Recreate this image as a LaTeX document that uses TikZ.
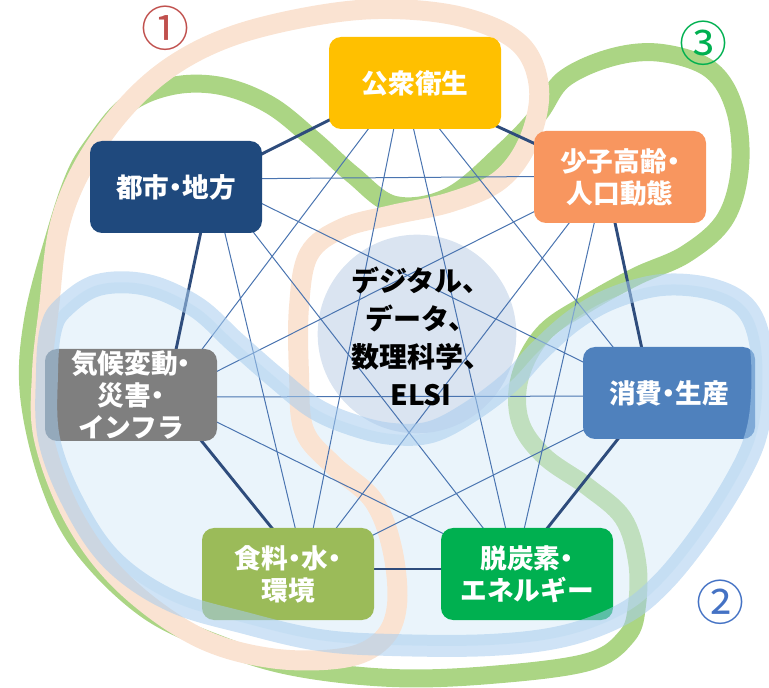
\documentclass[tikz,border=0pt]{standalone}
\usepackage{fontspec}
\setmainfont{Noto Sans CJK JP}
\newcommand\nd{\kern-.25em・\kern-.25em}
\usetikzlibrary{calc}
\pgfdeclarelayer{bg}
\pgfdeclarelayer{edges}
\pgfdeclarelayer{top}
\pgfsetlayers{bg,edges,main,top}
\definecolor{cPH}{HTML}{FFC000}
\definecolor{cSH}{HTML}{F8965F}
\definecolor{cCS}{HTML}{4F81BD}
\definecolor{cDC}{HTML}{00B050}
\definecolor{cSK}{HTML}{9BBB59}
\definecolor{cKI}{HTML}{7F7F7F}
\definecolor{cTS}{HTML}{1F497D}
\definecolor{cHub}{HTML}{DAE4F1}
\definecolor{cRim}{HTML}{2E4C7C}
\definecolor{cLink}{HTML}{4A74B0}
\definecolor{cPeach}{HTML}{FAE3D2}
\definecolor{cGreen}{HTML}{ABD584}
\definecolor{cBlueBand}{HTML}{A7CCEE}
\definecolor{cBlueFill}{HTML}{D6EAF8}
\definecolor{cOne}{HTML}{C0504D}
\definecolor{cTwo}{HTML}{4472C4}
\definecolor{cThree}{HTML}{00B050}
\begin{document}
\begin{tikzpicture}[x=0.75pt,y=-0.75pt,
  box/.style={rectangle, rounded corners=9pt, minimum width=129pt, minimum height=69pt,
    text=white, font=\bfseries\fontsize{20}{24}\selectfont, align=center, inner sep=0pt},
  rim/.style={line width=2.2pt, draw=cRim},
  link/.style={line width=0.75pt, draw=cLink},
  band/.style={line width=#1, line cap=round, line join=round},
  tag/.style={font=\fontsize{36}{36}\selectfont, inner sep=0pt}]
\useasboundingbox (0,0) rectangle (769,688);

% ---------- blobs (background) ----------
\begin{pgfonlayer}{bg}
  % (3) green loop
  \draw[band=13.5pt, cGreen] plot[smooth cycle, tension=0.6] coordinates {
    (74,178) (93,145) (127,105) (172,86) (221,86) (270,105) (314,140) (353,175)
    (395,205) (450,196) (505,150) (539,114) (564,79) (613,57) (662,53) (711,70)
    (735,110) (740,167) (725,219) (686,254) (637,276) (588,303) (544,333) (520,377)
    (520,421) (544,456) (588,487) (623,518) (637,561) (637,605) (627,636) (588,662)
    (490,675) (392,678) (294,667) (221,645) (147,610) (83,548) (49,482) (29,395)
    (33,320) (55,235)};
  % (2) blue area fill
  \fill[cBlueFill, opacity=0.5] plot[smooth cycle, tension=0.6] coordinates {
    (64,307) (98,285) (147,285) (196,307) (235,342) (275,377) (314,408) (353,425)
    (392,434) (431,432) (470,412) (510,382) (539,351) (574,320) (613,298) (662,285)
    (711,289) (745,307) (760,342) (762,395) (755,439) (735,482) (701,535) (662,583)
    (623,614) (564,636) (490,645) (392,645) (319,640) (245,623) (172,601) (113,561)
    (74,504) (49,439) (47,373) (51,329)};
  % (1) peach loop
  \draw[band=15pt, cPeach] plot[smooth cycle, tension=0.6] coordinates {
    (49,307) (59,228) (83,167) (123,110) (172,66) (235,35) (319,15) (392,9)
    (466,18) (520,44) (539,88) (529,140) (500,180) (451,202) (392,215) (343,228)
    (309,254) (299,307) (299,373) (304,430) (333,465) (373,500) (392,548) (397,605)
    (382,640) (343,658) (270,658) (196,636) (123,583) (74,518) (44,439) (42,373)};
  % hub disc
  \node[circle, fill=cHub, minimum size=149pt, inner sep=0pt] (hub) at (417,334) {};
\end{pgfonlayer}

% ---------- topic boxes ----------
\node[box, fill=cPH] (ph) at (415,83) {公衆衛生};
\node[box, fill=cSH] (sh) at (620,177) {少子高齢\nd\\人口動態};
\node[box, fill=cCS] (cs) at (669,393) {消費\nd 生産};
\node[box, fill=cDC] (dc) at (527,574) {脱炭素\nd\\エネルギー};
\node[box, fill=cSK] (sk) at (288,574) {食料\nd 水\nd\\環境};
\node[box, fill=cKI] (ki) at (131,395) {気候変動\nd\\災害\nd\\インフラ};
\node[box, fill=cTS] (ts) at (176,187) {都市\nd 地方};

\node[font=\bfseries\fontsize{21}{28.5}\selectfont, align=center, text=black, inner sep=0pt]
  (hubtext) at (421,336) {デジタル、\\データ、\\数理科学、\\ELSI};

% connection points of the heptagon (inside each box)
\coordinate (phP) at ($(ph)+(-12,0)$);
\coordinate (shP) at ($(sh)+(-15,-1)$);
\coordinate (csP) at ($(cs)+(-17,3)$);
\coordinate (dcP) at ($(dc)+(-12,-5)$);
\coordinate (skP) at ($(sk)+(17,-5)$);
\coordinate (kiP) at ($(ki)+(35,2)$);
\coordinate (tsP) at ($(ts)+(36,-8)$);

% ---------- connectors ----------
\begin{pgfonlayer}{edges}
  \foreach \a/\b in {ph/sh, sh/cs, cs/dc, dc/sk, sk/ki, ki/ts, ts/ph}
    \draw[rim] (\a P) -- (\b P);
  \foreach \a/\b in {ph/cs, ph/dc, ph/sk, ph/ki, sh/dc, sh/sk, sh/ki, sh/ts,
                     cs/sk, cs/ki, cs/ts, dc/ki, dc/ts, sk/ts}
    \draw[link] (\a P) -- (\b P);
\end{pgfonlayer}

% ---------- blue band on top ----------
\begin{pgfonlayer}{top}
  \draw[band=16.5pt, cBlueBand, opacity=0.55] plot[smooth cycle, tension=0.6] coordinates {
    (64,307) (98,285) (147,285) (196,307) (235,342) (275,377) (314,408) (353,425)
    (392,434) (431,432) (470,412) (510,382) (539,351) (574,320) (613,298) (662,285)
    (711,289) (745,307) (760,342) (762,395) (755,439) (735,482) (701,535) (662,583)
    (623,614) (564,636) (490,645) (392,645) (319,640) (245,623) (172,601) (113,561)
    (74,504) (49,439) (47,373) (51,329)};
  \node[tag, text=cOne] (one) at (165,28) {①};
  \node[tag, text=cTwo] (two) at (720,602) {②};
  \node[tag, text=cThree] (three) at (703,43) {③};
\end{pgfonlayer}
\end{tikzpicture}
\end{document}
